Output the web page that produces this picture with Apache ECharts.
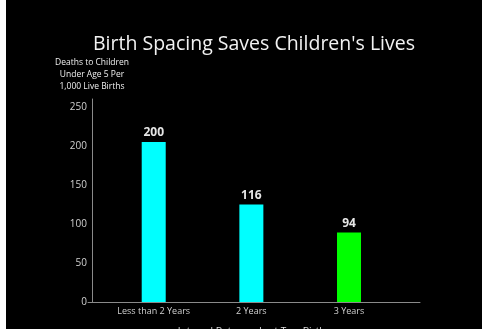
<!DOCTYPE html>
<html>
<head>
<meta charset="utf-8">
<script src="https://cdn.jsdelivr.net/npm/echarts@6/dist/echarts.min.js"></script>
<style>
  html, body { margin: 0; padding: 0; background: #fff; }
  #chart { position: absolute; left: 6px; top: 0; width: 476px; height: 329px; }
</style>
</head>
<body>
<div id="chart"></div>
<script>
// data
const categories = ['Less than 2 Years', '2 Years', '3 Years'];
const barHeights = [205, 125, 89];     // drawn bar heights
const valueLabels = ['200', '116', '94']; // printed labels
const barColors = ['#00ffff', '#00ffff', '#00ff00'];
const yTicks = [0, 50, 100, 150, 200, 250];

const chart = echarts.init(document.getElementById('chart'));

const option = {
  backgroundColor: '#000',
  animation: false,
  title: {
    text: "Birth Spacing Saves Children's Lives",
    left: 243,
    textAlign: 'center',
    top: 29,
    textStyle: { color: '#f2f2f2', fontSize: 19.5, fontWeight: 'normal', fontFamily: 'Open Sans' }
  },
  grid: { left: 82, right: 62, top: 99, bottom: 27, outerBoundsMode: 'none' },
  xAxis: {
    type: 'value',
    min: -0.673,
    max: 2.727,
    name: 'Interval Between Last Two Births',
    nameLocation: 'middle',
    nameGap: 25,
    nameTextStyle: { color: '#ddd', fontSize: 10, fontFamily: 'Open Sans' },
    axisLine: { show: true, lineStyle: { color: '#8a8a8a', width: 1 } },
    axisTick: { show: false },
    splitLine: { show: false },
    axisLabel: {
      customValues: [0, 1, 2],
      color: '#d0d0d0',
      fontSize: 9,
      fontFamily: 'Open Sans',
      margin: 5,
      formatter: v => categories[Math.round(v)]
    }
  },
  yAxis: {
    type: 'value',
    min: 0,
    max: 260,
    interval: 50,
    offset: -4,
    name: 'Deaths to Children\nUnder Age 5 Per\n1,000 Live Births',
    nameLocation: 'end',
    nameGap: 6,
    nameTextStyle: { color: '#eee', fontSize: 8.5, lineHeight: 12, align: 'center', fontFamily: 'Open Sans' },
    axisLine: { show: true, onZero: false, lineStyle: { color: '#8a8a8a', width: 1 } },
    axisTick: { show: false },
    splitLine: { show: false },
    axisLabel: {
      showMaxLabel: false,
      color: '#d0d0d0',
      fontSize: 10,
      fontFamily: 'Open Sans',
      margin: 5,
      formatter: v => (yTicks.indexOf(v) >= 0 ? String(v) : '')
    }
  },
  series: [{
    type: 'bar',
    barWidth: 24,
    data: barHeights.map((h, i) => ({
      value: [i, h],
      itemStyle: { color: barColors[i] }
    })),
    label: {
      show: true,
      position: 'top',
      distance: 3,
      color: '#e6e6e6',
      fontSize: 12,
      fontWeight: 'bold',
      fontFamily: 'Open Sans',
      formatter: p => valueLabels[p.dataIndex]
    }
  }]
};

chart.setOption(option);
</script>
</body>
</html>
